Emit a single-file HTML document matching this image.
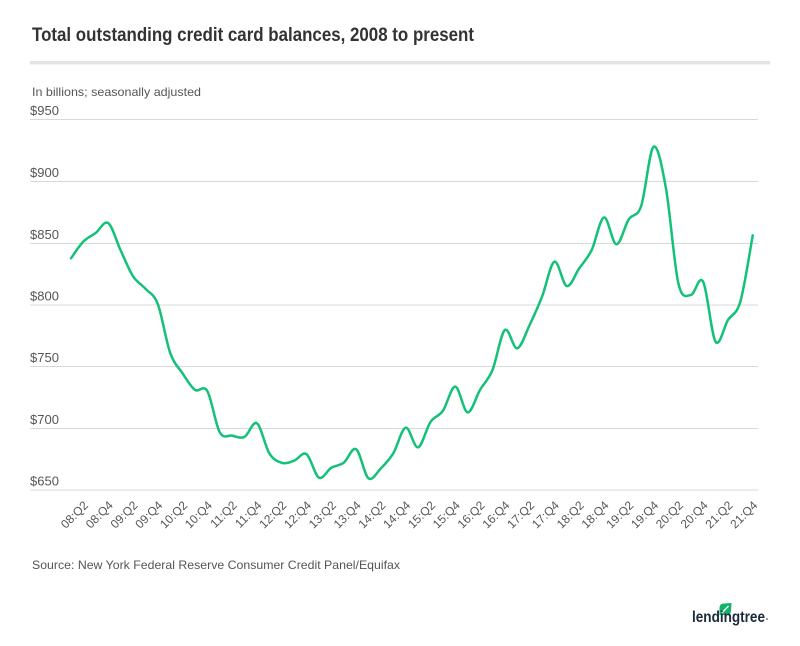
<!DOCTYPE html>
<html>
<head>
<meta charset="utf-8">
<style>
  html,body{margin:0;padding:0;background:#fff;}
  svg{display:block;}
  text{font-family:"Liberation Sans",sans-serif;}
</style>
</head>
<body>
<svg id="c" width="800" height="646" viewBox="0 0 800 646" xmlns="http://www.w3.org/2000/svg">
  <rect width="800" height="646" fill="#fff"/>
  <text x="32" y="41" font-size="19" font-weight="bold" fill="#333" textLength="442" lengthAdjust="spacingAndGlyphs">Total outstanding credit card balances, 2008 to present</text>
  <rect x="30" y="61" width="740" height="3.5" fill="#e4e4e4"/>
  <text x="32" y="96" font-size="12" fill="#555" textLength="169" lengthAdjust="spacingAndGlyphs">In billions; seasonally adjusted</text>

  <g stroke="#d9d9d9" stroke-width="1">
    <line x1="30" x2="758" y1="119.5" y2="119.5"/>
    <line x1="30" x2="758" y1="181.5" y2="181.5"/>
    <line x1="30" x2="758" y1="243.5" y2="243.5"/>
    <line x1="30" x2="758" y1="305" y2="305"/>
    <line x1="30" x2="758" y1="366.5" y2="366.5"/>
    <line x1="30" x2="758" y1="428.5" y2="428.5"/>
    <line x1="30" x2="758" y1="490" y2="490"/>
  </g>
  <g font-size="13" fill="#555">
    <text x="30" y="115">$950</text>
    <text x="30" y="177">$900</text>
    <text x="30" y="239">$850</text>
    <text x="30" y="300.5">$800</text>
    <text x="30" y="362">$750</text>
    <text x="30" y="424">$700</text>
    <text x="30" y="485.5">$650</text>
  </g>

  <g id="xl" font-size="12" fill="#555" text-anchor="end"></g>

  <path id="ln" fill="none" stroke="#14c178" stroke-width="2.5" stroke-linejoin="round" stroke-linecap="round" d=""/>

  <text x="32" y="569" font-size="12" fill="#555" textLength="368" lengthAdjust="spacingAndGlyphs">Source: New York Federal Reserve Consumer Credit Panel/Equifax</text>

  <!-- logo -->
  <g>
    <path d="M719.5 615 L719.5 608 Q719.5 603.5 724 603.5 L731.5 603 L731 610.5 Q731 615 726.5 615 Z" fill="#12b36b"/>
    <path d="M721.8 613 L728.5 606" stroke="#fff" stroke-width="1.3" fill="none"/>
    <text x="692" y="622" font-size="16" font-weight="bold" fill="#1c2a3c" textLength="73" lengthAdjust="spacingAndGlyphs">lendingtree</text>
    <circle cx="767" cy="619" r="0.8" fill="#1c2a3c"/>
  </g>
</svg>
<script>
(function(){
  var vals=[837.5,851,858,866,844,823,812.9,800.5,761,744.4,731,730,696.7,694,693,704,
    679.7,672,673.7,679,660,668,672,683,659.5,667.5,679.7,700.4,684.5,705,714,733.6,
    712.8,731,747,779.4,764.6,783.5,806.4,834.7,815,829.3,844,870.5,848.8,869,879.8,927.7,
    894,817.2,807.8,818.5,770,787.5,802.4,856];
  var x0=71, dx=12.395;
  function Y(v){return 490-(v-650)*1.236;}
  var pts=vals.map(function(v,i){return [x0+dx*i, Y(v)];});
  var n=pts.length;
  function P(i){ if(i<0) i=0; if(i>n-1) i=n-1; return pts[i]; }
  var p='M'+pts[0][0].toFixed(2)+' '+pts[0][1].toFixed(2);
  for(var i=0;i<n-1;i++){
    var p0=P(i-1),p1=P(i),p2=P(i+1),p3=P(i+2);
    var c1x=p1[0]+(p2[0]-p0[0])/6, c1y=p1[1]+(p2[1]-p0[1])/6;
    var c2x=p2[0]-(p3[0]-p1[0])/6, c2y=p2[1]-(p3[1]-p1[1])/6;
    p+=' C'+c1x.toFixed(2)+' '+c1y.toFixed(2)+' '+c2x.toFixed(2)+' '+c2y.toFixed(2)+' '+p2[0].toFixed(2)+' '+p2[1].toFixed(2);
  }
  document.getElementById('ln').setAttribute('d',p);
  var g=document.getElementById('xl'),ns='http://www.w3.org/2000/svg';
  for(var k=1;k<56;k+=2){
    var yr=8+Math.floor(k/4), q=(k%4)+1;
    var lab=(yr<10?'0':'')+yr+':Q'+q;
    var tx=x0+dx*k+5.5, ty=506;
    var t=document.createElementNS(ns,'text');
    t.setAttribute('x',tx.toFixed(2)); t.setAttribute('y',ty);
    t.setAttribute('transform','rotate(-45 '+tx.toFixed(2)+' '+ty+')');
    t.textContent=lab; g.appendChild(t);
  }
})();
</script>
</body>
</html>
